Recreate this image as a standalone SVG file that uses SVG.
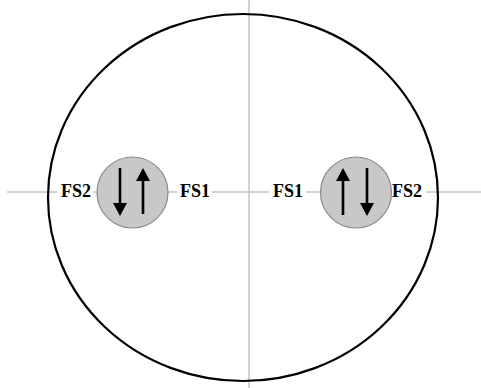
<svg xmlns="http://www.w3.org/2000/svg" width="481" height="388" viewBox="0 0 481 388">
<style>
.axis{stroke:#c4c4c4;stroke-width:1.5;fill:none}
.shell{fill:none;stroke:#000;stroke-width:2.2}
.node{fill:#c8c8c8;stroke:#8a8a8a;stroke-width:1.2}
.shaft{stroke:#000;stroke-width:2.6}
.head{fill:#000}
.lbl{font-family:"Liberation Serif","Times New Roman",serif;font-weight:bold;font-size:18px;fill:#000}
</style>
<rect width="481" height="388" fill="#fff"/>
<g id="connectors">
<line class="axis" x1="249" y1="0" x2="249" y2="388"/>
<line class="axis" x1="7" y1="192" x2="57" y2="192"/>
<line class="axis" x1="93" y1="192" x2="97" y2="192"/>
<line class="axis" x1="168" y1="192" x2="177" y2="192"/>
<line class="axis" x1="212" y1="192" x2="269" y2="192"/>
<line class="axis" x1="306" y1="192" x2="320" y2="192"/>
<line class="axis" x1="426" y1="192" x2="481" y2="192"/>
</g>
<g id="vessel">
<ellipse class="shell" cx="243" cy="197.5" rx="195" ry="183.5"/>
</g>
<g id="left-node">
<circle class="node" cx="132.5" cy="192.5" r="35.5"/>
<line class="shaft" x1="120" y1="168" x2="120" y2="204"/>
<polygon class="head" points="113,203 127,203 120,216"/>
<line class="shaft" x1="143" y1="180" x2="143" y2="214"/>
<polygon class="head" points="136,181 150,181 143,168"/>
</g>
<g id="right-node">
<circle class="node" cx="356" cy="192.5" r="35.5"/>
<line class="shaft" x1="343" y1="180" x2="343" y2="215"/>
<polygon class="head" points="336,181 350,181 343,168"/>
<line class="shaft" x1="367" y1="168" x2="367" y2="204"/>
<polygon class="head" points="360,203 374,203 367,216"/>
</g>
<g id="labels">
<text class="lbl" x="61" y="197">FS2</text>
<text class="lbl" x="180" y="197">FS1</text>
<text class="lbl" x="273" y="197">FS1</text>
<text class="lbl" x="392" y="197">FS2</text>
</g>
</svg>
